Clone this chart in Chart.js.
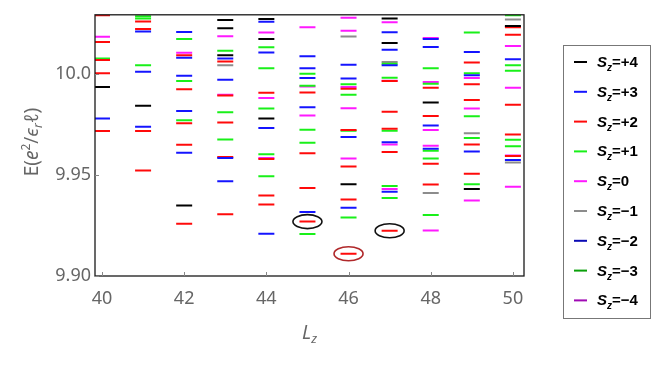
<!DOCTYPE html>
<html>
<head>
<meta charset="utf-8">
<script src="https://cdn.jsdelivr.net/npm/chart.js@4.4.1/dist/chart.umd.min.js"></script>
<style>
html, body { margin: 0; padding: 0; background: #fff; }
</style>
</head>
<body>
<canvas id="graph0" width="664" height="374"></canvas>
<script>
// DATA

const lzTicks = [40, 42, 44, 46, 48, 50]
const eTicks = [9.90, 9.95, 10.0]
const eTickLabels = ['9.90', '9.95', '10.0']

const szNames = ['+4', '+3', '+2', '+1', '0', '\u22121', '\u22122', '\u22123', '\u22124']

// levels [Lz, E] for each Sz
const szP4 = [
    [40, 9.9935], [41, 9.9842], [42, 9.9349],
    [43, 10.0266], [43, 10.0225], [43, 10.0092],
    [44, 10.0271], [44, 10.0172], [44, 9.9779],
    [46, 9.9454], [47, 10.0274], [47, 10.0153],
    [48, 9.9858], [49, 9.9430], [50, 10.0237]
]
const szP3 = [
    [40, 9.9779],
    [41, 10.0209], [41, 10.0010], [41, 9.9738],
    [42, 10.0207], [42, 10.0079], [42, 9.9990], [42, 9.9816], [42, 9.9610],
    [43, 10.0076], [43, 9.9971], [43, 9.9584], [43, 9.9469],
    [44, 10.0258], [44, 10.0105], [44, 9.9732], [44, 9.9209],
    [45, 10.0087], [45, 10.0027], [45, 9.9979], [45, 9.9835], [45, 9.9316],
    [46, 10.0045], [46, 9.9977], [46, 9.9688], [46, 9.9337],
    [47, 10.0206], [47, 10.0119], [47, 10.0043], [47, 9.9662], [47, 9.9417],
    [48, 10.0172], [48, 10.0133], [48, 9.9745], [48, 9.9629],
    [49, 10.0108], [49, 9.9993], [49, 9.9616],
    [50, 10.0072], [50, 9.9574]
]
const szP2 = [
    [40, 10.0290], [40, 10.0157], [40, 10.0068], [40, 10.0003], [40, 9.9717],
    [41, 10.0259], [41, 10.0222], [41, 9.9717], [41, 9.9522],
    [42, 10.0092], [42, 9.9924], [42, 9.9756], [42, 9.9649], [42, 9.9259],
    [43, 10.0061], [43, 9.9893], [43, 9.9759], [43, 9.9589], [43, 9.9305],
    [44, 9.9907], [44, 9.9579], [44, 9.9398], [44, 9.9354],
    [45, 9.9908], [45, 9.9607], [45, 9.9435], [45, 9.9269],
    [46, 9.9926], [46, 9.9722], [46, 9.9542], [46, 9.9378], [46, 9.9110],
    [47, 9.9964], [47, 9.9813], [47, 9.9728], [47, 9.9613], [47, 9.9224],
    [48, 9.9931], [48, 9.9792], [48, 9.9555], [48, 9.9453],
    [49, 10.0056], [49, 9.9948], [49, 9.9870], [49, 9.9651], [49, 9.9506],
    [50, 10.0230], [50, 10.0193], [50, 9.9847], [50, 9.9700], [50, 9.9593]
]
const szP1 = [
    [40, 10.0076],
    [41, 10.0285], [41, 10.0274], [41, 10.0042],
    [42, 10.0172], [42, 9.9964], [42, 9.9771],
    [43, 10.0114], [43, 9.9810], [43, 9.9675],
    [44, 10.0131], [44, 10.0027], [44, 9.9829], [44, 9.9602], [44, 9.9493],
    [45, 10.0001], [45, 9.9941], [45, 9.9724], [45, 9.9659], [45, 9.9208],
    [46, 9.9948], [46, 9.9896], [46, 9.9719], [46, 9.9289],
    [47, 10.0050], [47, 9.9981], [47, 9.9719], [47, 9.9445], [47, 9.9386],
    [48, 10.0027], [48, 9.9951], [48, 9.9620], [48, 9.9581], [48, 9.9302],
    [49, 10.0205], [49, 10.0003], [49, 9.9790], [49, 9.9683], [49, 9.9454],
    [50, 10.0290], [50, 10.0043], [50, 10.0015], [50, 9.9674], [50, 9.9642]
]
const sz0 = [
    [40, 10.0183], [42, 10.0104],
    [43, 10.0186], [43, 9.9897],
    [44, 10.0205], [44, 9.9880], [44, 9.9584],
    [45, 10.0230], [45, 9.9937], [45, 9.9794],
    [46, 10.0277], [46, 10.0213], [46, 9.9935], [46, 9.9830], [46, 9.9581],
    [47, 10.0255], [47, 9.9966], [47, 9.9651], [47, 9.9430],
    [48, 10.0177], [48, 9.9960], [48, 9.9722], [48, 9.9644], [48, 9.9225],
    [49, 9.9979], [49, 9.9829], [49, 9.9373],
    [50, 10.0138], [50, 9.9931], [50, 9.9596], [50, 9.9442]
]
const szM1 = [
    [43, 10.0043], [46, 10.0185], [47, 10.0058], [48, 9.9410],
    [49, 9.9706], [50, 10.0269], [50, 9.9561]
]
const szM2 = []
const szM3 = []
const szM4 = []

// levels marked with an ellipse
const circled = [[45, 9.9269], [46, 9.9110], [47, 9.9224]]
const circleColors = ['#111', '#b0282a', '#111']

const szData = [szP4, szP3, szP2, szP1, sz0, szM1, szM2, szM3, szM4]
const szColors = ['#000000', '#1414ff', '#ff0a0a', '#19f019', '#ff19ff', '#8c8c8c', '#0a0ab4', '#0aa00a', '#a00ab4']

// HELPERS

function drawRich(ctx, parts, x, y, align) {
    let w = 0
    for (let p of parts) { ctx.font = p.font; w += ctx.measureText(p.t).width }
    let cx = align === 'center' ? x - w / 2 : x
    ctx.textAlign = 'left'
    ctx.textBaseline = 'alphabetic'
    for (let p of parts) {
        ctx.font = p.font
        ctx.fillText(p.t, cx, y + (p.dy || 0))
        cx += ctx.measureText(p.t).width
    }
}

const decor = {
    id: 'decor',
    afterDatasetsDraw(chart) {
        const { ctx, scales } = chart
        ctx.save()
        ctx.lineWidth = 1.6
        circled.forEach((c, i) => {
            ctx.strokeStyle = circleColors[i]
            ctx.beginPath()
            ctx.ellipse(scales.x.getPixelForValue(c[0]), scales.y.getPixelForValue(c[1]), 14.5, 7, 0, 0, Math.PI * 2)
            ctx.stroke()
        })
        ctx.restore()
    },
    afterDraw(chart) {
        const { ctx, chartArea: a, scales } = chart
        ctx.save()
        // frame
        ctx.strokeStyle = '#1a1a1a'
        ctx.lineWidth = 1.3
        ctx.strokeRect(a.left, a.top, a.right - a.left, a.bottom - a.top)
        // inward ticks
        ctx.strokeStyle = '#888'
        ctx.lineWidth = 1
        ctx.beginPath()
        for (let v of lzTicks) {
            const px = Math.round(scales.x.getPixelForValue(v)) + 0.5
            ctx.moveTo(px, a.bottom); ctx.lineTo(px, a.bottom - 4)
        }
        for (let v of eTicks) {
            const py = Math.round(scales.y.getPixelForValue(v)) + 0.5
            ctx.moveTo(a.left, py); ctx.lineTo(a.left + 4, py)
        }
        ctx.stroke()

        // axis titles
        ctx.fillStyle = '#666'
        const fam = '"Noto Sans"'
        drawRich(ctx, [
            { t: 'L', font: 'italic 19px ' + fam },
            { t: 'z', font: 'italic 13px ' + fam, dy: 4 }
        ], (a.left + a.right) / 2, 339, 'center')

        ctx.save()
        ctx.translate(31, 142)
        ctx.rotate(-Math.PI / 2)
        drawRich(ctx, [
            { t: 'E(', font: '19px ' + fam },
            { t: 'e', font: 'italic 19px ' + fam },
            { t: '2', font: '12px ' + fam, dy: -8 },
            { t: '/', font: '19px ' + fam },
            { t: '\u03f5', font: 'italic 19px ' + fam },
            { t: 'r', font: 'italic 12px ' + fam, dy: 4 },
            { t: '\u2113', font: 'italic 19px ' + fam },
            { t: ')', font: '19px ' + fam }
        ], 0, 7, 'center')
        ctx.restore()

        // legend
        const lf = '"Liberation Sans"'
        ctx.strokeStyle = '#777'
        ctx.lineWidth = 1
        ctx.strokeRect(563.5, 45.5, 87, 273)
        szNames.forEach((n, i) => {
            const y = 62 + i * 29.8
            ctx.strokeStyle = szColors[i]
            ctx.lineWidth = 2
            ctx.beginPath()
            ctx.moveTo(574, y); ctx.lineTo(587, y)
            ctx.stroke()
            ctx.fillStyle = '#000'
            drawRich(ctx, [
                { t: 'S', font: 'italic bold 15px ' + lf },
                { t: 'z', font: 'italic bold 10px ' + lf, dy: 4 },
                { t: '=' + n, font: 'bold 15px ' + lf }
            ], 597, y + 5, 'left')
        })
        ctx.restore()
    }
}

// GRAPH

const ctx = document.getElementById('graph0').getContext('2d')

const graph0 = new Chart(ctx, {
    type: 'scatter',
    data: {
        datasets: szData.map((d, i) => ({
            label: 'Sz=' + szNames[i],
            data: d.map(p => ({ x: p[0], y: p[1] })),
            pointStyle: 'line',
            radius: 8,
            borderWidth: 2,
            borderColor: szColors[i],
            backgroundColor: szColors[i]
        }))
    },
    options: {
        responsive: false,
        animation: false,
        events: [],
        devicePixelRatio: 1,
        layout: { padding: { left: 0, right: 140, top: 10, bottom: 0 } },
        plugins: { legend: { display: false }, tooltip: { enabled: false } },
        scales: {
            x: {
                type: 'linear',
                min: 39.83,
                max: 50.27,
                afterFit: s => { s.height = 98 },
                afterBuildTicks: s => { s.ticks = lzTicks.map(v => ({ value: v })) },
                grid: { display: false, drawTicks: false },
                border: { display: false },
                ticks: {
                    padding: 12,
                    color: '#666',
                    font: { family: 'Noto Sans', size: 18 },
                    maxRotation: 0
                }
            },
            y: {
                type: 'linear',
                min: 9.90,
                max: 10.0292,
                afterFit: s => { s.width = 95 },
                afterBuildTicks: s => { s.ticks = eTicks.map(v => ({ value: v })) },
                grid: { display: false, drawTicks: false },
                border: { display: false },
                ticks: {
                    padding: 4,
                    color: '#666',
                    font: { family: 'Noto Sans', size: 18 },
                    callback: v => eTickLabels[eTicks.indexOf(v)]
                }
            }
        }
    },
    plugins: [decor]
})
</script>
</body>
</html>
